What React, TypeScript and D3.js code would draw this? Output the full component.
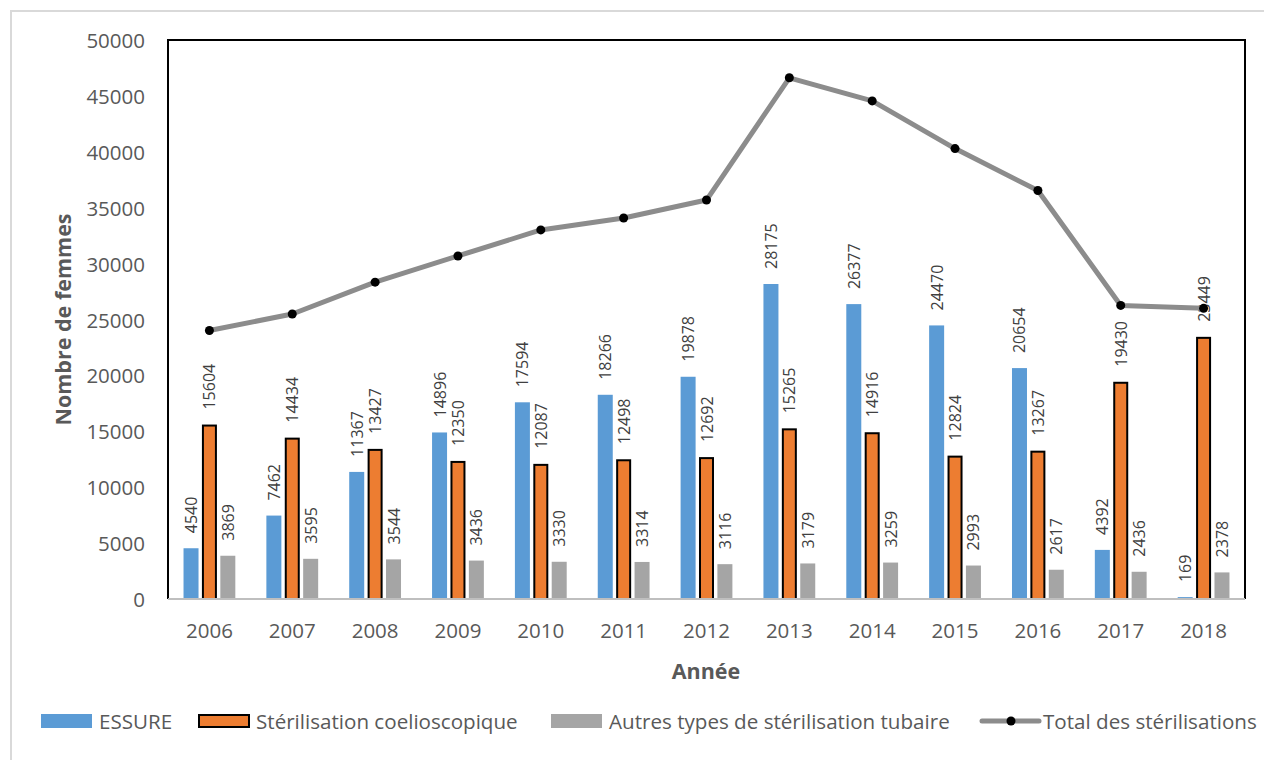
import React from "react";
import * as d3 from "d3";

const years = ["2006","2007","2008","2009","2010","2011","2012","2013","2014","2015","2016","2017","2018"];
const essure = [4540, 7462, 11367, 14896, 17594, 18266, 19878, 28175, 26377, 24470, 20654, 4392, 169];
const coelio = [15604, 14434, 13427, 12350, 12087, 12498, 12692, 15265, 14916, 12824, 13267, 19430, 23449];
const autres = [3869, 3595, 3544, 3436, 3330, 3314, 3116, 3179, 3259, 2993, 2617, 2436, 2378];
const total = [24013, 25491, 28338, 30682, 33011, 34078, 35686, 46619, 44552, 40287, 36538, 26258, 25996];
const yTicks = [0, 5000, 10000, 15000, 20000, 25000, 30000, 35000, 40000, 45000, 50000];

const FONT = "'Open Sans', sans-serif";
const TXT = "#595959";

export default function App() {
  const left = 168, right = 1245, top = 40, bottom = 599;
  const x = d3.scaleBand<string>().domain(years).range([left, right]).padding(0);
  const y = d3.scaleLinear().domain([0, 50000]).range([bottom, top]);
  const bw = 15;
  const step = 18.4;
  const series = [
    { name: "ESSURE", vals: essure, fill: "#5b9bd5", stroke: "none", off: -step },
    { name: "Stérilisation coelioscopique", vals: coelio, fill: "#ed7d31", stroke: "#000", off: 0 },
    { name: "Autres types de stérilisation tubaire", vals: autres, fill: "#a5a5a5", stroke: "none", off: step },
  ];
  const cx = (yr: string) => (x(yr) as number) + x.bandwidth() / 2;
  const line = d3.line<number>().x((_, i) => cx(years[i])).y((v) => y(v));

  return (
    <svg width={1264} height={760} style={{ position: "absolute", left: 0, top: 0 }} fontFamily={FONT}>
      <rect x={0} y={0} width={1264} height={760} fill="#fff" />
      <rect x={11} y={11} width={1262} height={770} fill="none" stroke="#d9d9d9" strokeWidth={2} />
      {yTicks.map((t) => (
        <text key={t} x={145} y={y(t)} textAnchor="end" dominantBaseline="central" fontSize={20.5} fill={TXT}>
          {t}
        </text>
      ))}
      {series.map((s) =>
        s.vals.map((v, i) => {
          const c = cx(years[i]) + s.off;
          const h = bottom - y(v);
          const hasStroke = s.stroke !== "none";
          return (
            <rect
              key={s.name + i}
              x={c - bw / 2 + (hasStroke ? 1 : 0)}
              y={y(v) + (hasStroke ? 1 : 0)}
              width={bw - (hasStroke ? 2 : 0)}
              height={Math.max(0, h - (hasStroke ? 1 : 0))}
              fill={s.fill}
              stroke={s.stroke}
              strokeWidth={hasStroke ? 2 : 0}
            />
          );
        })
      )}
      <path d={`M${left},${bottom} V${top} H${right} V${bottom}`} fill="none" stroke="#000" strokeWidth={2} />
      <line x1={left} x2={right} y1={bottom} y2={bottom} stroke="#bfbfbf" strokeWidth={2} />
      {series.map((s) =>
        s.vals.map((v, i) => {
          const c = cx(years[i]) + s.off;
          const ly = y(v) - 15;
          return (
            <text
              key={"l" + s.name + i}
              transform={`translate(${c},${ly}) rotate(-90)`}
              textAnchor="start"
              dominantBaseline="central"
              fontSize={16}
              fill="#404040"
            >
              {v}
            </text>
          );
        })
      )}
      <path d={line(total) || ""} fill="none" stroke="#8c8c8c" strokeWidth={5} strokeLinejoin="round" />
      {total.map((v, i) => (
        <circle key={"m" + i} cx={cx(years[i])} cy={y(v)} r={4.5} fill="#000" />
      ))}
      {years.map((yr) => (
        <text key={yr} x={cx(yr)} y={638} textAnchor="middle" fontSize={20.5} fill={TXT}>
          {yr}
        </text>
      ))}
      <text x={706} y={679} textAnchor="middle" fontSize={21.5} fontWeight="bold" fill={TXT}>
        Année
      </text>
      <text
        transform={`translate(62,${(top + bottom) / 2}) rotate(-90)`}
        textAnchor="middle"
        dominantBaseline="central"
        fontSize={21.5}
        fontWeight="bold"
        fill={TXT}
      >
        Nombre de femmes
      </text>
      <g fontSize={20.6} fill={TXT}>
        <rect x={41} y={714} width={51} height={14} fill="#5b9bd5" />
        <text x={99} y={721} dominantBaseline="central">ESSURE</text>
        <rect x={199} y={715} width={50} height={12} fill="#ed7d31" stroke="#000" strokeWidth={2} />
        <text x={256} y={721} dominantBaseline="central">Stérilisation coelioscopique</text>
        <rect x={551} y={714} width={51} height={14} fill="#a5a5a5" />
        <text x={609} y={721} dominantBaseline="central">Autres types de stérilisation tubaire</text>
        <line x1={982} x2={1039} y1={721} y2={721} stroke="#8c8c8c" strokeWidth={5} strokeLinecap="round" />
        <circle cx={1011} cy={721} r={4.5} fill="#000" />
        <text x={1043} y={721} dominantBaseline="central">Total des stérilisations</text>
      </g>
    </svg>
  );
}
